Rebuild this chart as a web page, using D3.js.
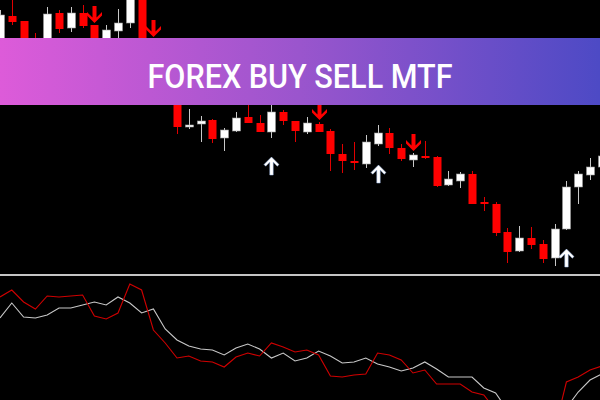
<!DOCTYPE html>
<html>
<head>
<meta charset="utf-8">
<script src="https://cdn.jsdelivr.net/npm/d3@7/dist/d3.min.js"></script>
<style>
    html, body { margin: 0; padding: 0; background: #000; }
    #chart { width: 600px; height: 400px; overflow: hidden; }
</style>
</head>
<body>
<div id="chart"></div>
<script>
// candle data, index 0..51 (price)
var opens  = [150.40,150.84,150.79,150.55,150.40,150.87,150.72,150.87,150.75,150.40,150.69,150.77,151.05,150.55,150.15,150.05,
              149.73,149.76,149.80,149.62,149.69,149.83,149.77,149.68,149.88,149.79,149.68,149.76,149.69,149.46,149.39,149.36,
              149.56,149.67,149.52,149.40,149.44,149.43,149.15,149.19,149.26,148.98,148.96,148.68,148.49,148.62,148.56,148.42,
              148.71,149.13,149.25,149.33];
var highs  = [150.90,151.05,150.79,150.67,150.93,150.90,150.93,150.95,150.75,150.75,150.91,151.10,151.10,150.61,150.45,150.10,
              149.91,149.84,149.81,149.72,149.88,150.00,149.85,150.00,149.90,149.79,149.83,149.78,149.71,149.56,149.58,149.65,
              149.75,149.72,149.56,149.47,149.59,149.44,149.29,149.28,149.29,149.03,148.98,148.72,148.74,148.73,148.60,148.76,
              149.19,149.29,149.42,149.50];
var lows   = [150.35,150.75,150.40,150.30,150.35,150.67,150.68,150.72,150.40,150.35,150.55,150.72,150.35,150.20,150.05,149.66,
              149.71,149.58,149.57,149.49,149.68,149.77,149.68,149.62,149.75,149.58,149.66,149.68,149.29,149.27,149.30,149.32,
              149.54,149.46,149.39,149.33,149.41,149.13,149.14,149.12,148.96,148.89,148.64,148.37,148.48,148.51,148.37,148.34,
              148.70,148.96,149.20,149.33];
var closes = [150.85,150.78,150.45,150.35,150.86,150.71,150.87,150.74,150.45,150.70,150.77,151.03,150.40,150.30,150.40,149.73,
              149.75,149.79,149.61,149.70,149.82,149.77,149.68,149.88,149.79,149.69,149.77,149.68,149.46,149.39,149.37,149.58,
              149.67,149.52,149.41,149.45,149.42,149.14,149.21,149.26,148.96,148.96,148.67,148.48,148.62,148.55,148.41,148.71,
              149.13,149.26,149.33,149.44];

var sellSignals = [8, 13, 27, 35];
var buySignals = [23, 32, 48];

// lower panel: two oscillator lines
var fastLine = [103,110,98,91,104,103,104,105,84,81,87,116,110,70,57,42,44,39,38,33,43,47,44,57,53,48,50,45,24,23,25,26,
                47,45,40,27,30,16,16,16,8,5,-10,-15,-18,-20,-25,-30,18,23,30,34];
var slowLine = [82,97,83,82,85,92,92,95,98,95,103,97,87,91,71,60,54,51,50,45,52,56,51,42,47,39,42,49,44,37,38,42,
                36,33,29,32,38,31,23,23,23,12,7,-10,-20,-25,-20,-12,-8,8,20,26];

var title = "FOREX BUY SELL MTF";

var width = 600;
var height = 400;

var candles = opens.map(function (o, i) {
    return { i: i, open: o, high: highs[i], low: lows[i], close: closes[i] };
});

var svg = d3.select("#chart")
    .append("svg")
    .attr("width", width)
    .attr("height", height)
    .style("background", "#000");

var x = d3.scaleLinear().domain([0, 50]).range([0, 590]);
var y = d3.scaleLinear().domain([151.00, 148.30]).range([0, 270]);
var yInd = d3.scaleLinear().domain([0, 120]).range([400, 280]);

var bodyW = 8;

function isUp(d) { return d.close >= d.open; }

// wicks
svg.append("g")
    .selectAll("line")
    .data(candles)
    .enter()
    .append("line")
    .attr("x1", d => Math.round(x(d.i)) + 0.5)
    .attr("x2", d => Math.round(x(d.i)) + 0.5)
    .attr("y1", d => y(d.high))
    .attr("y2", d => y(d.low))
    .attr("stroke", d => isUp(d) ? "#c8c8c8" : "#e00000")
    .attr("stroke-width", 1);

// bodies
svg.append("g")
    .selectAll("rect")
    .data(candles)
    .enter()
    .append("rect")
    .attr("x", d => Math.round(x(d.i)) - bodyW / 2 + 0.5)
    .attr("width", bodyW)
    .attr("y", d => y(Math.max(d.open, d.close)))
    .attr("height", d => Math.max(2, Math.abs(y(d.open) - y(d.close))))
    .attr("fill", d => isUp(d) ? "#ffffff" : "#ff0000")
    .attr("stroke", d => isUp(d) ? "#9a9a9a" : "none")
    .attr("stroke-width", 0.6);

// sell arrows (tip at bottom, just above high)
var downArrow = "M0,0 L7.5,-7.5 L7.5,-11 L2,-5.5 L2,-17 L-2,-17 L-2,-5.5 L-7.5,-11 L-7.5,-7.5 Z";
svg.append("g")
    .selectAll("path")
    .data(sellSignals)
    .enter()
    .append("path")
    .attr("d", downArrow)
    .attr("transform", i => "translate(" + (Math.round(x(i)) + 0.5) + "," + (y(highs[i]) - 2) + ")")
    .attr("fill", "#ff0000");

// buy arrows (tip at top, below low)
var upArrow = "M0,0 L7.5,7.5 L5.8,9.2 L1.7,5 L1.7,18 L-1.7,18 L-1.7,5 L-5.8,9.2 L-7.5,7.5 Z";
svg.append("g")
    .selectAll("path")
    .data(buySignals)
    .enter()
    .append("path")
    .attr("d", upArrow)
    .attr("transform", i => "translate(" + (Math.round(x(i)) + 0.5) + "," + (y(lows[i]) + 19) + ")")
    .attr("fill", "#ffffff")
    .attr("stroke", "#9ab8e8")
    .attr("stroke-width", 0.5);

// separator between price and indicator window
svg.append("line")
    .attr("x1", 0).attr("x2", width)
    .attr("y1", 275).attr("y2", 275)
    .attr("stroke", "#c4c4c4")
    .attr("stroke-width", 2);

var line = d3.line()
    .x((d, i) => x(i))
    .y(d => yInd(d));

svg.append("path")
    .datum(slowLine)
    .attr("d", line)
    .attr("fill", "none")
    .attr("stroke", "#c8c8c8")
    .attr("stroke-width", 1.1);

svg.append("path")
    .datum(fastLine)
    .attr("d", line)
    .attr("fill", "none")
    .attr("stroke", "#d00000")
    .attr("stroke-width", 1.1);

// title banner
var grad = svg.append("defs")
    .append("linearGradient")
    .attr("id", "banner")
    .attr("x1", "0%").attr("x2", "100%")
    .attr("y1", "0%").attr("y2", "0%");
grad.append("stop").attr("offset", "0%").attr("stop-color", "#dd5bd9");
grad.append("stop").attr("offset", "50%").attr("stop-color", "#9a55cd");
grad.append("stop").attr("offset", "100%").attr("stop-color", "#4d4ac5");

svg.append("rect")
    .attr("x", 0)
    .attr("y", 38)
    .attr("width", width)
    .attr("height", 67)
    .attr("fill", "url(#banner)");

svg.append("text")
    .attr("x", width / 2)
    .attr("y", 88)
    .attr("text-anchor", "middle")
    .attr("fill", "#ffffff")
    .attr("textLength", 305)
    .attr("lengthAdjust", "spacingAndGlyphs")
    .style("font-family", "Roboto, 'Open Sans', sans-serif")
    .style("font-weight", 500)
    .style("font-size", "34px")
    .text(title);
</script>
</body>
</html>
